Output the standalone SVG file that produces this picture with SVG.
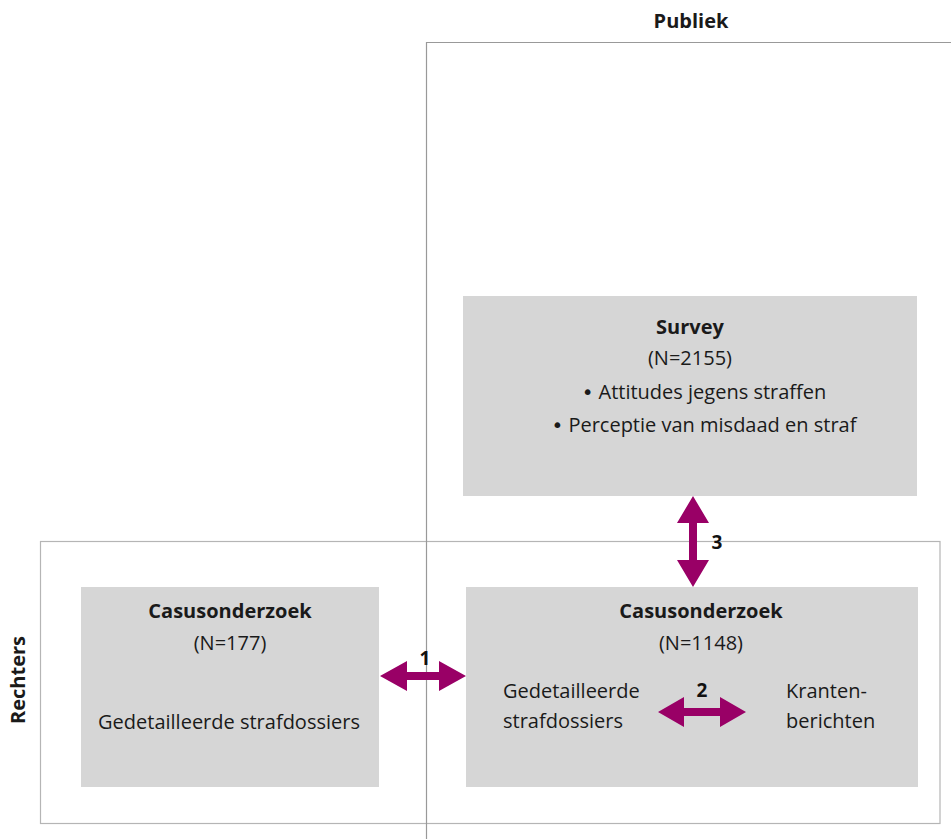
<svg xmlns="http://www.w3.org/2000/svg" width="951" height="839" viewBox="0 0 951 839">
<style>
.frameP{fill:none;stroke:#999;stroke-width:1.2}
.frameR{fill:none;stroke:#b5b5b5;stroke-width:1.2}
.box{fill:#d6d6d6}
.t{font-family:"Open Sans","Liberation Sans",sans-serif;font-size:20px;fill:#1a1a1a}
.c{text-anchor:middle}
.b{font-weight:bold}
.bul{font-family:"DejaVu Sans",sans-serif}
.arrow{fill:#990066}
.lbl{font-family:"Open Sans","Liberation Sans",sans-serif;font-size:19px;font-weight:bold;fill:#111;text-anchor:middle}
</style>
<g id="frame-rechters">
<rect class="frameR" x="40.5" y="541.5" width="899.5" height="282"/>
<text class="t b c" transform="translate(25,680) rotate(-90)">Rechters</text>
</g>
<g id="frame-publiek">
<path class="frameP" d="M426.5,839 V42.5 H951"/>
<text class="t b c" x="691" y="28">Publiek</text>
</g>
<g id="survey">
<rect class="box" x="463" y="296" width="454" height="200"/>
<text class="t b c" x="690" y="334">Survey</text>
<text class="t c" x="690" y="365">(N=2155)</text>
<text class="t c" x="704" y="399"><tspan class="bul">•</tspan><tspan dx="5">Attitudes jegens straffen</tspan></text>
<text class="t c" x="704" y="432"><tspan class="bul">•</tspan><tspan dx="5">Perceptie van misdaad en straf</tspan></text>
</g>
<g id="casus-rechters">
<rect class="box" x="81" y="587" width="298" height="200"/>
<text class="t b c" x="230" y="618">Casusonderzoek</text>
<text class="t c" x="230" y="650">(N=177)</text>
<text class="t c" x="229" y="729">Gedetailleerde strafdossiers</text>
</g>
<g id="casus-publiek">
<rect class="box" x="466" y="587" width="452" height="200"/>
<text class="t b c" x="701" y="618">Casusonderzoek</text>
<text class="t c" x="701" y="650">(N=1148)</text>
<text class="t" x="503" y="698">Gedetailleerde</text>
<text class="t" x="503" y="728">strafdossiers</text>
<text class="t" x="786" y="698">Kranten-</text>
<text class="t" x="786" y="728">berichten</text>
</g>
<g id="connectors">
<polygon class="arrow" points="380,676 407,661 407,672 439,672 439,661 466,676 439,691 439,680 407,680 407,691"/>
<text class="lbl" x="425" y="665">1</text>
<polygon class="arrow" points="658,712 684,697 684,708 720,708 720,697 746,712 720,727 720,716 684,716 684,727"/>
<text class="lbl" x="702" y="697">2</text>
<polygon class="arrow" points="693,496 709,523 697,523 697,560 709,560 693,587 677,560 689,560 689,523 677,523"/>
<text class="lbl" x="717" y="549">3</text>
</g>
</svg>
